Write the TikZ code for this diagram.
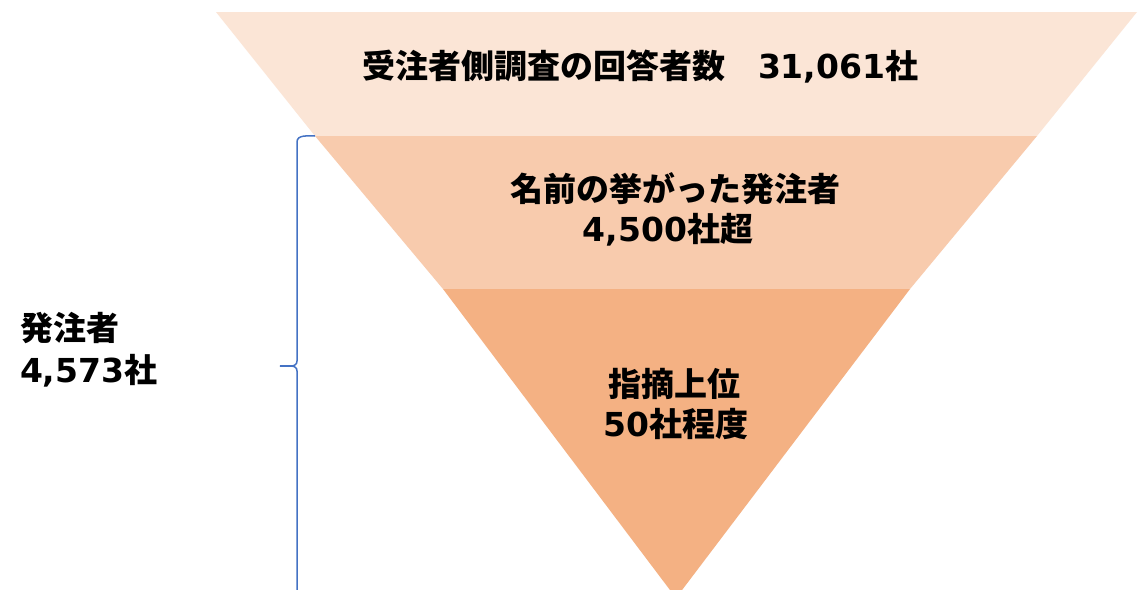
\documentclass[tikz,border=0pt]{standalone}
\usepackage{fontspec}
\newfontfamily\cjk{Noto Sans CJK JP}
\newfontfamily\lat{DejaVu Sans}
\definecolor{bandA}{HTML}{FBE5D6}
\definecolor{bandB}{HTML}{F8CBAD}
\definecolor{bandC}{HTML}{F4B183}
\definecolor{bracecol}{HTML}{4472C4}
\newcommand{\dg}[1]{{\lat\bfseries #1}}
\tikzset{
  lbl/.style={inner sep=0pt, outer sep=0pt, font=\cjk\bfseries\fontsize{33}{36}\selectfont, text=black},
  band/.style={draw=none}
}
\begin{document}
\begin{tikzpicture}[x=1pt,y=-1pt]
\useasboundingbox (0,0) rectangle (1139,589);
\clip (0,0) rectangle (1139,589);
\fill[white] (0,0) rectangle (1139,589);
% bands
\fill[bandA] (216,12) -- (1137,12) -- (1037,136) -- (315,136) -- cycle;
\fill[bandB] (315,136) -- (1037,136) -- (910,289) -- (443,289) -- cycle;
\fill[bandC] (443,289) -- (910,289) -- (676,598) -- cycle;
% texts
\node[lbl, anchor=base west] (t1) at (362,78) {受注者側調査の回答者数　\dg{31,061}社};
\node[lbl, anchor=base] (t2a) at (675,201) {名前の挙がった発注者};
\node[lbl, anchor=base] (t2b) at (668,241) {\dg{4,500}社超};
\node[lbl, anchor=base] (t3a) at (674,396) {指摘上位};
\node[lbl, anchor=base] (t3b) at (676,436) {\dg{50}社程度};
\node[lbl, anchor=base west] (l1) at (20,340) {発注者};
\node[lbl, anchor=base west] (l2) at (20,382) {\dg{4,573}社};
% brace
\coordinate (bt) at (315,136);
\coordinate (tip) at (280,366);
\coordinate (bb) at (297,600);
\draw[bracecol, line width=1.5pt]
  (bt) to[out=180,in=90] (297,142) -- (297,361) to[out=-90,in=0] (tip)
  to[out=0,in=90] (297,371) -- (bb);
\end{tikzpicture}
\end{document}
